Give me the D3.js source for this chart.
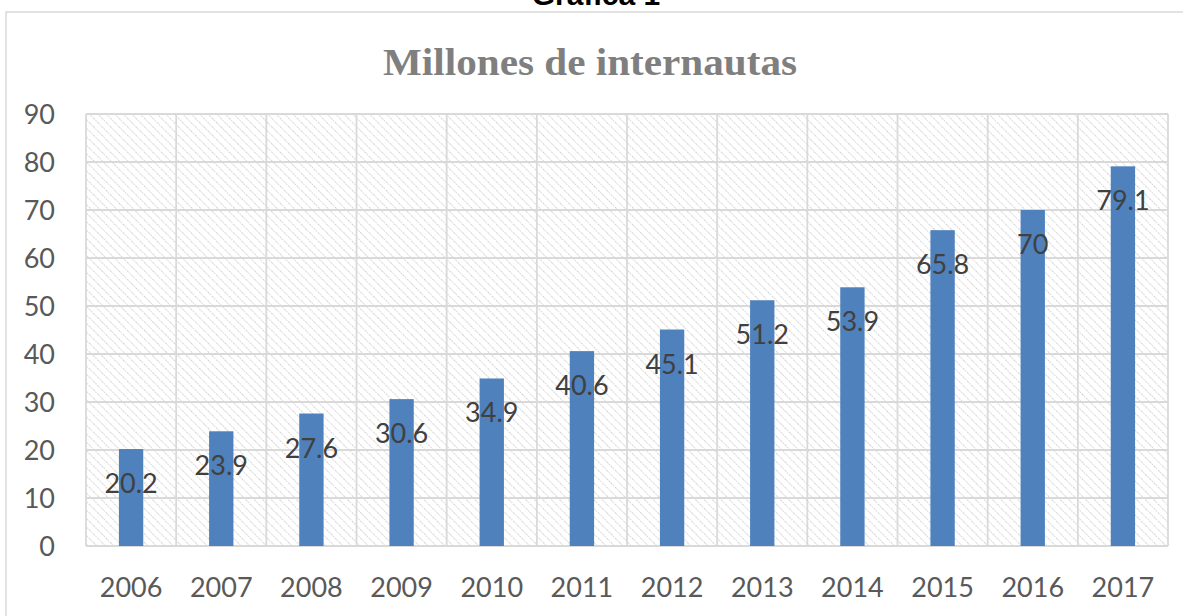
<!DOCTYPE html>
<html>
<head>
<meta charset="utf-8">
<script src="https://cdn.jsdelivr.net/npm/d3@7"></script>
<style>
  html, body { margin: 0; padding: 0; background: #fff; }
  svg { display: block; }
</style>
</head>
<body>
<svg id="chart" width="1183" height="616"></svg>
<script>
const categories = ["2006","2007","2008","2009","2010","2011","2012","2013","2014","2015","2016","2017"];
const values = [20.2, 23.9, 27.6, 30.6, 34.9, 40.6, 45.1, 51.2, 53.9, 65.8, 70, 79.1];
const valueLabels = ["20.2","23.9","27.6","30.6","34.9","40.6","45.1","51.2","53.9","65.8","70","79.1"];
const yTicks = [0,10,20,30,40,50,60,70,80,90];
const chartTitle = "Millones de internautas";
const pageTitle = "Gráfica 1";

const W = 1183, H = 616;
const plot = {left: 86, right: 1168, top: 114, bottom: 546};
const svg = d3.select("#chart");

// hatch pattern (lines running top-left to bottom-right)
const defs = svg.append("defs");
const pat = defs.append("pattern")
  .attr("id", "hatch").attr("patternUnits", "userSpaceOnUse")
  .attr("width", 6).attr("height", 6)
  .attr("patternTransform", "rotate(-45)");
pat.append("rect").attr("width", 6).attr("height", 6).attr("fill", "#fff");
pat.append("line").attr("x1", 0).attr("y1", 0).attr("x2", 0).attr("y2", 6)
  .attr("stroke", "#c8c8c8").attr("stroke-width", 1.5).attr("stroke-dasharray", "1.5,1");

// outer box
svg.append("rect").attr("x", 6).attr("y", 12).attr("width", W + 10).attr("height", H + 10)
  .attr("fill", "none").attr("stroke", "#d9d9d9").attr("stroke-width", 1.5);

// page title (cut off at top, as in the source)
svg.append("text").attr("x", 596).attr("y", 5).attr("text-anchor", "middle")
  .attr("font-family", "Liberation Sans, Arial, sans-serif").attr("font-weight", "bold")
  .attr("font-size", 30).attr("fill", "#000").text(pageTitle);

// chart title
svg.append("text").attr("x", 590).attr("y", 75).attr("text-anchor", "middle")
  .attr("font-family", "Liberation Serif, serif").attr("font-weight", "bold")
  .attr("font-size", 38).attr("fill", "#7f7f7f")
  .attr("textLength", 414).attr("lengthAdjust", "spacingAndGlyphs")
  .text(chartTitle);

const x = d3.scaleBand().domain(categories).range([plot.left, plot.right]).padding(0);
const y = d3.scaleLinear().domain([0, 90]).range([plot.bottom, plot.top]);

// plot background
svg.append("rect").attr("x", plot.left).attr("y", plot.top)
  .attr("width", plot.right - plot.left).attr("height", plot.bottom - plot.top)
  .attr("fill", "url(#hatch)");

// horizontal gridlines
svg.append("g").selectAll("line").data(yTicks).join("line")
  .attr("x1", plot.left).attr("x2", plot.right)
  .attr("y1", d => y(d)).attr("y2", d => y(d))
  .attr("stroke", "#d9d9d9").attr("stroke-width", 1.8);

// vertical gridlines at category boundaries
const bounds = categories.map(c => x(c)).concat([x(categories[categories.length - 1]) + x.bandwidth()]);
svg.append("g").selectAll("line").data(bounds).join("line")
  .attr("x1", d => d).attr("x2", d => d)
  .attr("y1", plot.top).attr("y2", plot.bottom)
  .attr("stroke", "#d9d9d9").attr("stroke-width", 1.8);

// bars
const barW = x.bandwidth() * 0.27;
svg.append("g").selectAll("rect").data(values).join("rect")
  .attr("x", (d, i) => x(categories[i]) + x.bandwidth() / 2 - barW / 2)
  .attr("y", d => y(d))
  .attr("width", barW)
  .attr("height", d => y(0) - y(d))
  .attr("fill", "#4f81bd");

// value labels
svg.append("g").selectAll("text").data(values).join("text")
  .attr("x", (d, i) => x(categories[i]) + x.bandwidth() / 2)
  .attr("y", d => y(d) + 44)
  .attr("text-anchor", "middle")
  .attr("font-family", "Lato, sans-serif").attr("font-size", 27)
  .attr("fill", "#404040")
  .text((d, i) => valueLabels[i]);

// y axis
const yAxis = d3.axisLeft(y).tickValues(yTicks).tickSize(0).tickPadding(0);
const gy = svg.append("g").attr("transform", `translate(${plot.left - 31},0)`).call(yAxis);
gy.select(".domain").remove();
gy.selectAll("text").attr("font-family", "Lato, sans-serif").attr("font-size", 27)
  .attr("fill", "#595959").attr("dy", "0.36em");

// x axis
const xAxis = d3.axisBottom(x).tickSize(0).tickPadding(0);
const gx = svg.append("g").attr("transform", `translate(0,${plot.bottom})`).call(xAxis);
gx.select(".domain").remove();
gx.selectAll("text").attr("font-family", "Lato, sans-serif").attr("font-size", 27)
  .attr("fill", "#595959").attr("y", 51).attr("dy", 0);
</script>
</body>
</html>
